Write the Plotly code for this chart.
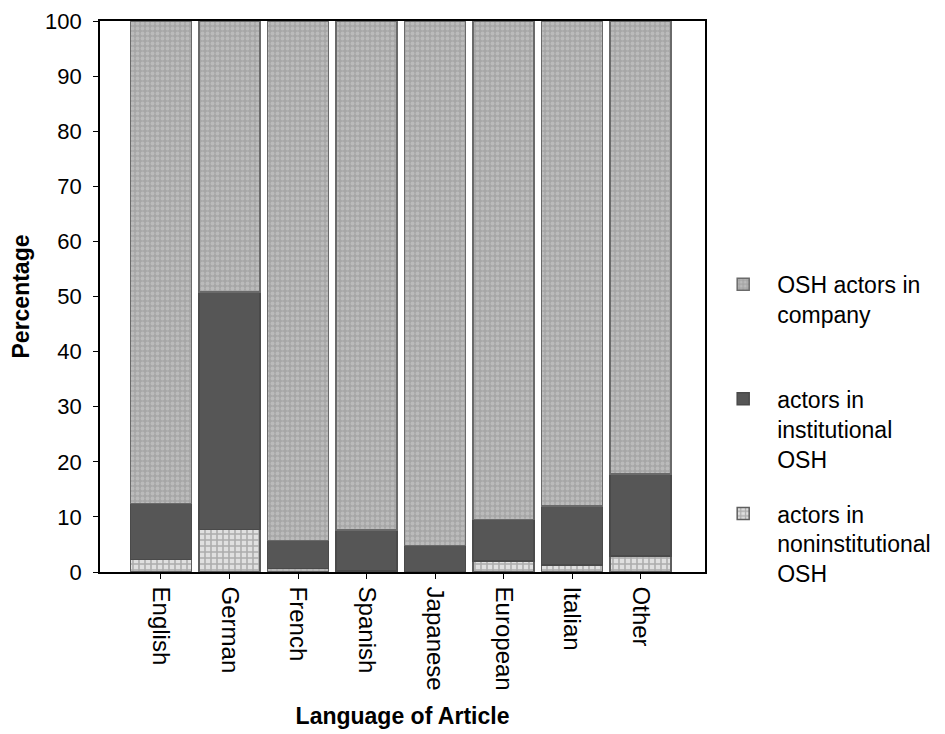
import plotly.graph_objects as go

languages = ["English", "German", "French", "Spanish", "Japanese", "European", "Italian", "Other"]
noninstitutional = [2.3, 7.7, 0.6, 0.2, 0.1, 2.0, 1.3, 2.9]
institutional = [10.1, 43.1, 5.1, 7.4, 4.7, 7.5, 10.7, 14.9]
company = [round(100 - a - b, 1) for a, b in zip(noninstitutional, institutional)]

y_ticks = list(range(0, 101, 10))
NB = "\u00a0"

fig = go.Figure()
fig.add_trace(go.Bar(
    x=languages, y=noninstitutional, name="actors in<br>noninstitutional<br>OSH",
    legendrank=3, legendgroup="c",
    marker=dict(color="#e4e4e4", line=dict(color="#5e5e5e", width=1.5),
                pattern=dict(shape="+", fgcolor="#777777", bgcolor="#e0e0e0", size=6, solidity=0.45)),
))
fig.add_trace(go.Bar(
    x=languages, y=institutional, name="actors in<br>institutional<br>OSH",
    legendrank=2, legendgroup="b",
    marker=dict(color="#565656", line=dict(color="#4a4a4a", width=1.5)),
))
fig.add_trace(go.Bar(
    x=languages, y=company, name="OSH actors in<br>company<br>" + NB,
    legendrank=1, legendgroup="a",
    marker=dict(color="#a8a8a8", line=dict(color="#6a6a6a", width=1.5),
                pattern=dict(shape=".", fgcolor="#d0d0d0", bgcolor="#a6a6a6", size=5, solidity=0.45)),
))

fig.update_layout(
    barmode="stack",
    bargap=0.11,
    width=945, height=734,
    margin=dict(l=92, r=248, t=13, b=170, autoexpand=False),
    plot_bgcolor="white", paper_bgcolor="white",
    font=dict(family="Arial, Liberation Sans, sans-serif", size=23, color="black"),
    showlegend=True,
    legend=dict(
        xref="container", yref="container",
        x=0.742, xanchor="left", y=0.653, yanchor="top",
        traceorder="grouped", tracegroupgap=22, valign="top",
        font=dict(size=23), itemwidth=58,
        bgcolor="rgba(0,0,0,0)",
    ),
    xaxis=dict(
        range=[-0.89, 7.94], tickangle=90, showline=True, linecolor="black", linewidth=1.6,
        mirror=True, ticks="outside", ticklen=5, tickcolor="black", tickwidth=1.3,
        title=dict(text="<b>Language of Article</b>", font=dict(size=23), standoff=18),
        showgrid=False, tickfont=dict(size=24), automargin=False, ticklabelstandoff=3,
        ticklabeloverflow="allow",
    ),
    yaxis=dict(
        range=[0, 100], tickvals=y_ticks, showline=True, linecolor="black", linewidth=1.6,
        mirror=True, ticks="outside", ticklen=5, tickcolor="black", tickwidth=1.3,
        title=dict(text="<b>Percentage</b>", font=dict(size=23), standoff=25),
        showgrid=False, zeroline=False, tickfont=dict(size=22), automargin=False,
        ticklabelstandoff=7, ticklabeloverflow="allow",
    ),
)

fig.write_html("out.html")
